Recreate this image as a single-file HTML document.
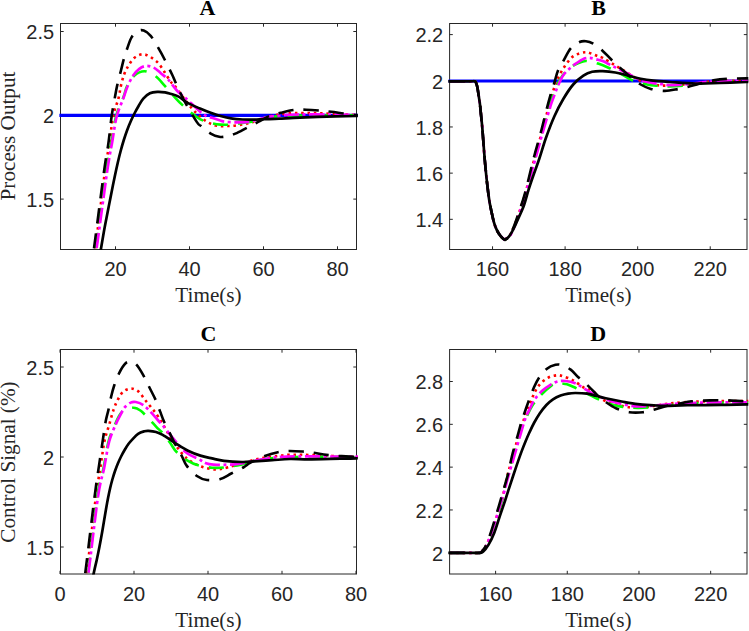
<!DOCTYPE html>
<html><head><meta charset="utf-8"><style>
html,body{margin:0;padding:0;background:#fff;width:749px;height:631px;overflow:hidden}
svg{display:block}
.tl{font-family:"Liberation Sans",sans-serif;font-size:20px;fill:#262626}
.lb{font-family:"Liberation Serif",serif;font-size:21.2px;fill:#262626}
.ti{font-family:"Liberation Serif",serif;font-size:22px;font-weight:bold;fill:#000}
</style></head><body>
<svg width="749" height="631" viewBox="0 0 749 631">
<defs>
<clipPath id="cA"><rect x="59.20" y="23.00" width="298.60" height="227.00"/></clipPath>
<clipPath id="cB"><rect x="448.30" y="23.00" width="300.00" height="227.00"/></clipPath>
<clipPath id="cC"><rect x="59.20" y="349.00" width="298.60" height="225.50"/></clipPath>
<clipPath id="cD"><rect x="448.30" y="349.00" width="300.00" height="225.50"/></clipPath>
</defs>
<rect x="60.50" y="23.50" width="296.00" height="226.00" fill="none" stroke="#262626" stroke-width="1"/>
<path d="M115.50,249.50v-3.20M115.50,23.50v3.20M189.50,249.50v-3.20M189.50,23.50v3.20M263.50,249.50v-3.20M263.50,23.50v3.20M337.50,249.50v-3.20M337.50,23.50v3.20M60.50,199.10h3.20M356.50,199.10h-3.20M60.50,115.30h3.20M356.50,115.30h-3.20M60.50,31.50h3.20M356.50,31.50h-3.20" stroke="#262626" stroke-width="1" fill="none"/>
<g clip-path="url(#cA)" fill="none" stroke-linecap="butt" stroke-linejoin="round">
<path id="pAblue" d="M59.20,115.30 C108.97,115.30 308.03,115.30 357.80,115.30" stroke="#0000ff" stroke-width="3.2"/>
<path id="pAr" d="M89.00,290.00 C90.03,283.17 92.53,268.83 95.20,249.00 C97.87,229.17 102.62,188.67 105.00,171.00 C107.38,153.33 108.17,152.08 109.50,143.00 C110.83,133.92 111.52,123.90 113.00,116.50 C114.48,109.10 117.08,103.70 118.40,98.60 C119.72,93.50 119.95,89.92 120.90,85.90 C121.85,81.88 122.83,77.88 124.10,74.50 C125.37,71.12 126.82,68.35 128.50,65.60 C130.18,62.85 132.18,59.83 134.20,58.00 C136.22,56.17 138.58,55.12 140.60,54.60 C142.62,54.08 144.40,54.33 146.30,54.90 C148.20,55.47 150.00,56.63 152.00,58.00 C154.00,59.37 156.25,60.82 158.30,63.10 C160.35,65.38 162.18,68.53 164.30,71.70 C166.42,74.87 169.17,79.62 171.00,82.10 C172.83,84.58 172.03,82.47 175.30,86.60 C178.57,90.73 185.75,101.33 190.60,106.90 C195.45,112.47 200.17,116.88 204.40,120.00 C208.63,123.12 211.95,124.60 216.00,125.60 C220.05,126.60 224.25,126.18 228.70,126.00 C233.15,125.82 238.65,125.17 242.70,124.50 C246.75,123.83 249.28,123.08 253.00,122.00 C256.72,120.92 260.50,119.30 265.00,118.00 C269.50,116.70 274.17,115.03 280.00,114.20 C285.83,113.37 293.33,113.15 300.00,113.00 C306.67,112.85 313.33,113.08 320.00,113.30 C326.67,113.52 334.00,114.02 340.00,114.30 C346.00,114.58 351.67,114.85 356.00,115.00 C360.33,115.15 364.33,115.17 366.00,115.20" stroke="#ff0000" stroke-width="2.6" stroke-dasharray="2.50 3.80" stroke-dashoffset="1.86"/>
<path id="pAg" d="M89.60,290.00 C90.67,283.17 93.27,268.83 96.00,249.00 C98.73,229.17 103.42,188.83 106.00,171.00 C108.58,153.17 109.83,151.08 111.50,142.00 C113.17,132.92 114.02,123.95 116.00,116.50 C117.98,109.05 121.53,102.40 123.40,97.30 C125.27,92.20 125.40,89.48 127.20,85.90 C129.00,82.32 131.33,78.23 134.20,75.80 C137.07,73.37 140.87,71.25 144.40,71.30 C147.93,71.35 152.03,73.72 155.40,76.10 C158.77,78.48 161.17,81.85 164.60,85.60 C168.03,89.35 173.15,95.47 176.00,98.60 C178.85,101.73 179.07,101.97 181.70,104.40 C184.33,106.83 188.75,110.73 191.80,113.20 C194.85,115.67 196.85,117.58 200.00,119.20 C203.15,120.82 207.28,122.00 210.70,122.90 C214.12,123.80 216.95,124.33 220.50,124.60 C224.05,124.87 228.30,124.78 232.00,124.50 C235.70,124.22 239.13,123.43 242.70,122.90 C246.27,122.37 249.83,122.10 253.40,121.30 C256.97,120.50 259.67,118.98 264.10,118.10 C268.53,117.22 274.02,116.43 280.00,116.00 C285.98,115.57 291.67,115.58 300.00,115.50 C308.33,115.42 320.67,115.53 330.00,115.50 C339.33,115.47 350.00,115.33 356.00,115.30 C362.00,115.27 364.33,115.30 366.00,115.30" stroke="#00ff00" stroke-width="2.6" stroke-dasharray="15.20 10.00" stroke-dashoffset="7.81"/>
<path id="pAm" d="M90.00,290.00 C91.08,283.17 93.63,268.82 96.50,249.00 C99.37,229.18 104.58,188.95 107.20,171.10 C109.82,153.25 110.62,151.00 112.20,141.90 C113.78,132.80 114.82,123.82 116.70,116.50 C118.58,109.18 121.75,102.88 123.50,98.00 C125.25,93.12 125.62,90.90 127.20,87.20 C128.78,83.50 130.98,78.87 133.00,75.80 C135.02,72.73 137.08,70.45 139.30,68.80 C141.52,67.15 143.82,66.05 146.30,65.90 C148.78,65.75 151.78,66.68 154.20,67.90 C156.62,69.12 158.50,71.30 160.80,73.20 C163.10,75.10 165.25,76.33 168.00,79.30 C170.75,82.27 174.38,87.88 177.30,91.00 C180.22,94.12 181.18,94.13 185.50,98.00 C189.82,101.87 198.65,110.85 203.20,114.20 C207.75,117.55 209.83,117.00 212.80,118.10 C215.77,119.20 218.68,120.17 221.00,120.80 C223.32,121.43 223.97,121.63 226.70,121.90 C229.43,122.17 233.85,122.40 237.40,122.40 C240.95,122.40 244.23,122.47 248.00,121.90 C251.77,121.33 255.50,119.98 260.00,119.00 C264.50,118.02 268.33,116.75 275.00,116.00 C281.67,115.25 290.83,114.73 300.00,114.50 C309.17,114.27 320.67,114.52 330.00,114.60 C339.33,114.68 350.00,114.92 356.00,115.00 C362.00,115.08 364.33,115.08 366.00,115.10" stroke="#ff00ff" stroke-width="2.7" stroke-dasharray="15.20 3.50 3.00 3.50" stroke-dashoffset="7.80"/>
<path id="pAkd" d="M88.00,290.00 C88.98,283.17 91.23,268.80 93.90,249.00 C96.58,229.20 101.63,188.83 104.05,171.20 C106.47,153.57 107.14,152.32 108.40,143.20 C109.66,134.08 110.50,124.23 111.60,116.50 C112.70,108.77 114.08,101.90 115.00,96.80 C115.92,91.70 116.12,90.25 117.10,85.90 C118.08,81.55 119.73,75.35 120.90,70.70 C122.07,66.05 123.05,61.70 124.10,58.00 C125.15,54.30 125.93,51.98 127.20,48.50 C128.47,45.02 129.90,39.98 131.70,37.10 C133.50,34.22 136.00,32.30 138.00,31.20 C140.00,30.10 141.58,29.73 143.70,30.50 C145.82,31.27 148.27,32.90 150.70,35.80 C153.13,38.70 155.93,43.87 158.30,47.90 C160.67,51.93 162.58,55.52 164.90,60.00 C167.22,64.48 170.35,70.90 172.20,74.80 C174.05,78.70 174.00,79.10 176.00,83.40 C178.00,87.70 180.72,94.15 184.20,100.60 C187.68,107.05 194.08,117.85 196.90,122.10 C199.72,126.35 198.80,124.18 201.10,126.10 C203.40,128.02 207.68,131.82 210.70,133.60 C213.72,135.38 216.53,136.35 219.20,136.80 C221.87,137.25 224.02,136.83 226.70,136.30 C229.38,135.77 231.92,135.03 235.30,133.60 C238.68,132.17 243.18,129.65 247.00,127.70 C250.82,125.75 254.47,123.85 258.20,121.90 C261.93,119.95 265.63,117.52 269.40,116.00 C273.17,114.48 276.70,113.80 280.80,112.80 C284.90,111.80 289.80,110.52 294.00,110.00 C298.20,109.48 301.58,109.60 306.00,109.70 C310.42,109.80 316.28,110.25 320.50,110.60 C324.72,110.95 327.30,111.30 331.30,111.80 C335.30,112.30 340.38,113.07 344.50,113.60 C348.62,114.13 352.42,114.68 356.00,115.00 C359.58,115.32 364.33,115.42 366.00,115.50" stroke="#000" stroke-width="2.6" stroke-dasharray="15.20 10.00" stroke-dashoffset="8.28"/>
<path id="pAk" d="M94.00,290.00 C95.17,283.10 99.36,258.27 101.00,248.60 C102.64,238.93 102.92,237.10 103.83,232.00 C104.74,226.90 105.58,222.67 106.48,218.00 C107.38,213.33 108.30,208.67 109.22,204.00 C110.14,199.33 111.06,194.67 112.00,190.00 C112.94,185.33 113.90,180.50 114.85,176.00 C115.80,171.50 116.73,167.17 117.70,163.00 C118.67,158.83 119.63,154.83 120.65,151.00 C121.67,147.17 122.72,143.50 123.81,140.00 C124.91,136.50 126.04,133.17 127.22,130.00 C128.40,126.83 129.62,123.83 130.87,121.00 C132.12,118.17 133.41,115.50 134.70,113.00 C135.99,110.50 137.16,108.40 138.59,106.00 C140.02,103.60 141.42,100.72 143.30,98.60 C145.19,96.48 147.53,94.42 149.90,93.30 C152.27,92.18 154.97,92.05 157.50,91.90 C160.03,91.75 162.93,92.08 165.10,92.40 C167.27,92.72 168.25,93.10 170.50,93.80 C172.75,94.50 175.68,95.05 178.60,96.60 C181.52,98.15 184.43,101.12 188.00,103.10 C191.57,105.08 196.22,106.88 200.00,108.50 C203.78,110.12 207.13,111.50 210.70,112.80 C214.27,114.10 218.02,115.37 221.40,116.30 C224.78,117.23 227.45,117.87 231.00,118.40 C234.55,118.93 238.97,119.30 242.70,119.50 C246.43,119.70 249.83,119.65 253.40,119.60 C256.97,119.55 259.83,119.35 264.10,119.20 C268.37,119.05 274.02,118.93 279.00,118.70 C283.98,118.47 287.50,118.10 294.00,117.80 C300.50,117.50 307.67,117.20 318.00,116.90 C328.33,116.60 348.00,116.15 356.00,116.00 C364.00,115.85 364.33,116.00 366.00,116.00" stroke="#000" stroke-width="2.7"/>
</g>
<text x="115.50" y="276.40" class="tl" text-anchor="middle">20</text>
<text x="189.50" y="276.40" class="tl" text-anchor="middle">40</text>
<text x="263.50" y="276.40" class="tl" text-anchor="middle">60</text>
<text x="337.50" y="276.40" class="tl" text-anchor="middle">80</text>
<text x="54.10" y="206.90" class="tl" text-anchor="end">1.5</text>
<text x="54.10" y="123.10" class="tl" text-anchor="end">2</text>
<text x="54.10" y="39.30" class="tl" text-anchor="end">2.5</text>
<text x="208.50" y="302.20" class="lb" text-anchor="middle">Time(s)</text>
<text x="207.50" y="14.50" class="ti" text-anchor="middle">A</text>
<rect x="449.60" y="23.50" width="297.40" height="226.00" fill="none" stroke="#262626" stroke-width="1"/>
<path d="M492.54,249.50v-3.20M492.54,23.50v3.20M565.10,249.50v-3.20M565.10,23.50v3.20M637.66,249.50v-3.20M637.66,23.50v3.20M710.22,249.50v-3.20M710.22,23.50v3.20M449.60,219.32h3.20M747.00,219.32h-3.20M449.60,173.14h3.20M747.00,173.14h-3.20M449.60,126.96h3.20M747.00,126.96h-3.20M449.60,80.78h3.20M747.00,80.78h-3.20M449.60,34.60h3.20M747.00,34.60h-3.20" stroke="#262626" stroke-width="1" fill="none"/>
<g clip-path="url(#cB)" fill="none" stroke-linecap="butt" stroke-linejoin="round">
<path id="pBblue" d="M448.30,81.00 C498.30,81.00 698.30,81.00 748.30,81.00" stroke="#0000ff" stroke-width="3.2"/>
<path id="pBr" d="M440.00,81.30 C441.50,81.30 444.00,81.30 449.00,81.30 C454.00,81.30 465.67,81.28 470.00,81.30 C474.33,81.32 473.95,81.03 475.00,81.40 C476.05,81.77 475.88,82.42 476.30,83.50 C476.72,84.58 477.10,85.85 477.50,87.90 C477.90,89.95 478.30,93.15 478.70,95.80 C479.10,98.45 479.57,101.15 479.90,103.80 C480.23,106.45 480.43,109.07 480.70,111.70 C480.97,114.33 481.23,116.92 481.50,119.60 C481.77,122.28 482.00,124.27 482.30,127.80 C482.60,131.33 482.93,135.98 483.30,140.80 C483.67,145.62 484.07,151.50 484.50,156.70 C484.93,161.90 485.42,167.15 485.90,172.00 C486.38,176.85 486.80,180.85 487.40,185.80 C488.00,190.75 488.60,196.38 489.50,201.70 C490.40,207.02 491.95,213.90 492.80,217.70 C493.65,221.50 493.88,222.35 494.60,224.50 C495.32,226.65 496.17,228.77 497.10,230.60 C498.03,232.43 499.02,234.06 500.20,235.50 C501.38,236.94 502.67,239.13 504.20,239.25 C505.73,239.37 507.77,238.32 509.40,236.20 C511.03,234.07 512.32,230.62 514.00,226.50 C515.68,222.38 517.50,217.42 519.50,211.50 C521.50,205.58 523.42,200.17 526.00,191.00 C528.58,181.83 532.37,166.25 535.00,156.50 C537.63,146.75 539.55,140.67 541.80,132.50 C544.05,124.33 546.53,114.65 548.50,107.50 C550.47,100.35 552.02,94.48 553.60,89.60 C555.18,84.72 556.20,82.00 558.00,78.20 C559.80,74.40 562.07,70.30 564.40,66.80 C566.73,63.30 569.47,59.43 572.00,57.20 C574.53,54.97 577.28,54.23 579.60,53.40 C581.92,52.57 584.00,52.20 585.90,52.20 C587.80,52.20 589.10,52.77 591.00,53.40 C592.90,54.03 595.35,55.25 597.30,56.00 C599.25,56.75 599.70,56.32 602.70,57.90 C605.70,59.48 611.08,62.97 615.30,65.50 C619.52,68.03 623.77,70.52 628.00,73.10 C632.23,75.68 636.47,79.10 640.70,81.00 C644.93,82.90 649.07,83.73 653.40,84.50 C657.73,85.27 660.60,85.68 666.70,85.60 C672.80,85.52 682.78,84.68 690.00,84.00 C697.22,83.32 700.58,82.08 710.00,81.50 C719.42,80.92 738.83,80.67 746.50,80.50 C754.17,80.33 754.42,80.50 756.00,80.50" stroke="#ff0000" stroke-width="2.6" stroke-dasharray="2.50 3.80" stroke-dashoffset="2.63"/>
<path id="pBg" d="M440.00,81.30 C441.50,81.30 444.00,81.30 449.00,81.30 C454.00,81.30 465.67,81.28 470.00,81.30 C474.33,81.32 473.95,81.03 475.00,81.40 C476.05,81.77 475.88,82.42 476.30,83.50 C476.72,84.58 477.10,85.85 477.50,87.90 C477.90,89.95 478.30,93.15 478.70,95.80 C479.10,98.45 479.57,101.15 479.90,103.80 C480.23,106.45 480.43,109.07 480.70,111.70 C480.97,114.33 481.23,116.92 481.50,119.60 C481.77,122.28 482.00,124.27 482.30,127.80 C482.60,131.33 482.93,135.98 483.30,140.80 C483.67,145.62 484.07,151.50 484.50,156.70 C484.93,161.90 485.42,167.15 485.90,172.00 C486.38,176.85 486.80,180.85 487.40,185.80 C488.00,190.75 488.60,196.38 489.50,201.70 C490.40,207.02 491.95,213.90 492.80,217.70 C493.65,221.50 493.88,222.35 494.60,224.50 C495.32,226.65 496.17,228.77 497.10,230.60 C498.03,232.43 499.01,234.05 500.20,235.50 C501.39,236.95 502.70,239.17 504.25,239.30 C505.80,239.43 507.84,238.35 509.50,236.30 C511.16,234.25 512.52,231.05 514.20,227.00 C515.88,222.95 517.63,217.92 519.60,212.00 C521.57,206.08 523.35,200.83 526.00,191.50 C528.65,182.17 532.83,165.87 535.50,156.00 C538.17,146.13 539.75,140.47 542.00,132.30 C544.25,124.13 547.17,113.28 549.00,107.00 C550.83,100.72 551.28,98.98 553.00,94.60 C554.72,90.22 557.20,84.50 559.30,80.70 C561.40,76.90 563.07,74.43 565.60,71.80 C568.13,69.17 571.75,66.58 574.50,64.90 C577.25,63.22 579.98,62.33 582.10,61.70 C584.22,61.07 584.53,60.78 587.20,61.10 C589.87,61.42 594.47,62.45 598.10,63.60 C601.73,64.75 605.07,66.20 609.00,68.00 C612.93,69.80 617.68,72.28 621.70,74.40 C625.72,76.52 628.88,79.02 633.10,80.70 C637.32,82.38 642.78,83.65 647.00,84.50 C651.22,85.35 654.65,85.48 658.40,85.80 C662.15,86.12 665.27,86.45 669.50,86.40 C673.73,86.35 678.72,85.98 683.80,85.50 C688.88,85.02 693.97,84.17 700.00,83.50 C706.03,82.83 712.25,81.98 720.00,81.50 C727.75,81.02 740.50,80.75 746.50,80.60 C752.50,80.45 754.42,80.60 756.00,80.60" stroke="#00ff00" stroke-width="2.6" stroke-dasharray="15.20 10.00" stroke-dashoffset="15.06"/>
<path id="pBm" d="M440.00,81.30 C441.50,81.30 444.00,81.30 449.00,81.30 C454.00,81.30 465.67,81.28 470.00,81.30 C474.33,81.32 473.95,81.03 475.00,81.40 C476.05,81.77 475.88,82.42 476.30,83.50 C476.72,84.58 477.10,85.85 477.50,87.90 C477.90,89.95 478.30,93.15 478.70,95.80 C479.10,98.45 479.57,101.15 479.90,103.80 C480.23,106.45 480.43,109.07 480.70,111.70 C480.97,114.33 481.23,116.92 481.50,119.60 C481.77,122.28 482.00,124.27 482.30,127.80 C482.60,131.33 482.93,135.98 483.30,140.80 C483.67,145.62 484.07,151.50 484.50,156.70 C484.93,161.90 485.42,167.15 485.90,172.00 C486.38,176.85 486.80,180.85 487.40,185.80 C488.00,190.75 488.60,196.38 489.50,201.70 C490.40,207.02 491.95,213.90 492.80,217.70 C493.65,221.50 493.88,222.35 494.60,224.50 C495.32,226.65 496.17,228.77 497.10,230.60 C498.03,232.43 499.07,234.07 500.20,235.50 C501.33,236.93 503.15,238.55 503.90,239.20 C504.65,239.85 503.75,239.87 504.70,239.40 C505.65,238.93 508.00,238.47 509.60,236.40 C511.20,234.33 512.60,231.07 514.30,227.00 C516.00,222.93 517.80,218.00 519.80,212.00 C521.80,206.00 523.53,200.48 526.30,191.00 C529.07,181.52 533.62,165.03 536.40,155.10 C539.18,145.17 540.63,139.63 543.00,131.40 C545.37,123.17 548.85,111.35 550.60,105.70 C552.35,100.05 552.27,100.82 553.50,97.50 C554.73,94.18 556.40,89.45 558.00,85.80 C559.60,82.15 561.20,78.45 563.10,75.60 C565.00,72.75 567.28,70.70 569.40,68.70 C571.52,66.70 573.47,65.23 575.80,63.60 C578.13,61.97 581.08,59.85 583.40,58.90 C585.72,57.95 587.27,57.75 589.70,57.90 C592.13,58.05 595.83,59.27 598.00,59.80 C600.17,60.33 599.82,59.83 602.70,61.10 C605.58,62.37 611.08,65.30 615.30,67.40 C619.52,69.50 623.77,71.58 628.00,73.70 C632.23,75.82 636.47,78.52 640.70,80.10 C644.93,81.68 650.18,82.58 653.40,83.20 C656.62,83.82 657.47,83.48 660.00,83.80 C662.53,84.12 663.60,85.07 668.60,85.10 C673.60,85.13 683.10,84.57 690.00,84.00 C696.90,83.43 700.58,82.28 710.00,81.70 C719.42,81.12 738.83,80.70 746.50,80.50 C754.17,80.30 754.42,80.50 756.00,80.50" stroke="#ff00ff" stroke-width="2.7" stroke-dasharray="15.20 3.50 3.00 3.50" stroke-dashoffset="14.43"/>
<path id="pBkd" d="M440.00,81.30 C441.50,81.30 444.00,81.30 449.00,81.30 C454.00,81.30 465.67,81.28 470.00,81.30 C474.33,81.32 473.95,81.03 475.00,81.40 C476.05,81.77 475.88,82.42 476.30,83.50 C476.72,84.58 477.10,85.85 477.50,87.90 C477.90,89.95 478.30,93.15 478.70,95.80 C479.10,98.45 479.57,101.15 479.90,103.80 C480.23,106.45 480.43,109.07 480.70,111.70 C480.97,114.33 481.23,116.92 481.50,119.60 C481.77,122.28 482.00,124.27 482.30,127.80 C482.60,131.33 482.93,135.98 483.30,140.80 C483.67,145.62 484.07,151.50 484.50,156.70 C484.93,161.90 485.42,167.15 485.90,172.00 C486.38,176.85 486.80,180.85 487.40,185.80 C488.00,190.75 488.60,196.38 489.50,201.70 C490.40,207.02 491.95,213.90 492.80,217.70 C493.65,221.50 493.88,222.35 494.60,224.50 C495.32,226.65 496.17,228.77 497.10,230.60 C498.03,232.43 499.02,234.06 500.20,235.50 C501.38,236.94 502.70,239.08 504.20,239.25 C505.70,239.42 507.62,238.54 509.20,236.50 C510.78,234.46 512.07,231.08 513.70,227.00 C515.33,222.92 517.07,217.83 519.00,212.00 C520.93,206.17 522.80,201.17 525.30,192.00 C527.80,182.83 531.45,166.78 534.00,157.00 C536.55,147.22 538.47,141.37 540.60,133.30 C542.73,125.23 545.13,115.05 546.80,108.60 C548.47,102.15 549.37,98.83 550.60,94.60 C551.83,90.37 552.97,87.20 554.20,83.20 C555.43,79.20 556.42,74.40 558.00,70.60 C559.58,66.80 561.58,64.10 563.70,60.40 C565.82,56.70 568.05,51.47 570.70,48.40 C573.35,45.33 577.07,43.20 579.60,42.00 C582.13,40.80 583.72,40.98 585.90,41.20 C588.08,41.42 589.90,41.68 592.70,43.30 C595.50,44.92 599.57,48.15 602.70,50.90 C605.83,53.65 608.33,56.73 611.50,59.80 C614.67,62.87 618.52,66.45 621.70,69.30 C624.88,72.15 627.43,74.37 630.60,76.90 C633.77,79.43 637.33,82.50 640.70,84.50 C644.07,86.50 646.78,87.83 650.80,88.90 C654.82,89.97 660.30,90.87 664.80,90.90 C669.30,90.93 673.85,89.80 677.80,89.10 C681.75,88.40 684.93,87.58 688.50,86.70 C692.07,85.82 695.05,84.85 699.20,83.80 C703.35,82.75 708.65,81.23 713.40,80.40 C718.15,79.57 722.18,79.13 727.70,78.80 C733.22,78.47 741.78,78.47 746.50,78.40 C751.22,78.33 754.42,78.40 756.00,78.40" stroke="#000" stroke-width="2.6" stroke-dasharray="15.20 10.00" stroke-dashoffset="15.56"/>
<path id="pBk" d="M440.00,81.30 C441.50,81.30 444.00,81.30 449.00,81.30 C454.00,81.30 465.67,81.28 470.00,81.30 C474.33,81.32 473.95,81.03 475.00,81.40 C476.05,81.77 475.88,82.42 476.30,83.50 C476.72,84.58 477.10,85.85 477.50,87.90 C477.90,89.95 478.30,93.15 478.70,95.80 C479.10,98.45 479.57,101.15 479.90,103.80 C480.23,106.45 480.43,109.07 480.70,111.70 C480.97,114.33 481.23,116.92 481.50,119.60 C481.77,122.28 482.00,124.27 482.30,127.80 C482.60,131.33 482.93,135.98 483.30,140.80 C483.67,145.62 484.07,151.50 484.50,156.70 C484.93,161.90 485.42,167.15 485.90,172.00 C486.38,176.85 486.80,180.85 487.40,185.80 C488.00,190.75 488.60,196.38 489.50,201.70 C490.40,207.02 491.95,213.90 492.80,217.70 C493.65,221.50 493.88,222.35 494.60,224.50 C495.32,226.65 496.17,228.77 497.10,230.60 C498.03,232.43 499.07,234.07 500.20,235.50 C501.33,236.93 503.05,238.50 503.90,239.20 C504.75,239.90 504.47,240.12 505.30,239.70 C506.13,239.28 507.77,238.05 508.90,236.70 C510.03,235.35 511.15,233.28 512.10,231.60 C513.05,229.92 513.72,228.47 514.60,226.60 C515.48,224.73 515.85,223.92 517.40,220.40 C518.95,216.88 522.03,210.63 523.90,205.50 C525.77,200.37 527.00,194.68 528.60,189.60 C530.20,184.52 531.73,180.10 533.50,175.00 C535.27,169.90 537.13,165.17 539.20,159.00 C541.27,152.83 543.37,145.13 545.90,138.00 C548.43,130.87 551.50,122.70 554.40,116.20 C557.30,109.70 560.17,104.28 563.30,99.00 C566.43,93.72 569.85,88.40 573.20,84.50 C576.55,80.60 580.23,77.72 583.40,75.60 C586.57,73.48 588.98,72.53 592.20,71.80 C595.42,71.07 598.85,71.08 602.70,71.20 C606.55,71.32 611.08,71.77 615.30,72.50 C619.52,73.23 623.77,74.55 628.00,75.60 C632.23,76.65 636.47,77.95 640.70,78.80 C644.93,79.65 648.55,80.17 653.40,80.70 C658.25,81.23 662.77,81.52 669.80,82.00 C676.83,82.48 687.23,83.43 695.60,83.60 C703.97,83.77 711.52,83.27 720.00,83.00 C728.48,82.73 740.50,82.20 746.50,82.00 C752.50,81.80 754.42,81.83 756.00,81.80" stroke="#000" stroke-width="2.7"/>
</g>
<text x="492.54" y="276.40" class="tl" text-anchor="middle">160</text>
<text x="565.10" y="276.40" class="tl" text-anchor="middle">180</text>
<text x="637.66" y="276.40" class="tl" text-anchor="middle">200</text>
<text x="710.22" y="276.40" class="tl" text-anchor="middle">220</text>
<text x="443.20" y="227.12" class="tl" text-anchor="end">1.4</text>
<text x="443.20" y="180.94" class="tl" text-anchor="end">1.6</text>
<text x="443.20" y="134.76" class="tl" text-anchor="end">1.8</text>
<text x="443.20" y="88.58" class="tl" text-anchor="end">2</text>
<text x="443.20" y="42.40" class="tl" text-anchor="end">2.2</text>
<text x="598.30" y="302.20" class="lb" text-anchor="middle">Time(s)</text>
<text x="598.50" y="14.50" class="ti" text-anchor="middle">B</text>
<rect x="60.50" y="349.50" width="296.00" height="224.50" fill="none" stroke="#262626" stroke-width="1"/>
<path d="M60.00,574.00v-3.20M60.00,349.50v3.20M134.00,574.00v-3.20M134.00,349.50v3.20M208.00,574.00v-3.20M208.00,349.50v3.20M282.00,574.00v-3.20M282.00,349.50v3.20M356.00,574.00v-3.20M356.00,349.50v3.20M60.50,547.00h3.20M356.50,547.00h-3.20M60.50,457.00h3.20M356.50,457.00h-3.20M60.50,367.00h3.20M356.50,367.00h-3.20" stroke="#262626" stroke-width="1" fill="none"/>
<g clip-path="url(#cC)" fill="none" stroke-linecap="butt" stroke-linejoin="round">
<path id="pCr" d="M81.00,610.00 C81.93,603.92 84.10,592.50 86.60,573.50 C89.10,554.50 93.68,513.75 96.00,496.00 C98.32,478.25 99.08,476.17 100.50,467.00 C101.92,457.83 103.05,448.03 104.50,441.00 C105.95,433.97 107.68,430.03 109.20,424.80 C110.72,419.57 112.13,413.83 113.60,409.60 C115.07,405.37 116.42,402.37 118.00,399.40 C119.58,396.43 121.20,393.58 123.10,391.80 C125.00,390.02 127.50,389.12 129.40,388.70 C131.30,388.28 132.80,388.67 134.50,389.30 C136.20,389.93 137.92,390.82 139.60,392.50 C141.28,394.18 142.78,397.05 144.60,399.40 C146.42,401.75 148.17,403.63 150.50,406.60 C152.83,409.57 155.30,412.17 158.60,417.20 C161.90,422.23 166.45,430.80 170.30,436.80 C174.15,442.80 178.12,448.98 181.70,453.20 C185.28,457.42 188.22,459.77 191.80,462.10 C195.38,464.43 199.22,465.97 203.20,467.20 C207.18,468.43 211.55,469.48 215.70,469.50 C219.85,469.52 221.10,469.05 228.10,467.30 C235.10,465.55 249.57,460.88 257.70,459.00 C265.83,457.12 271.52,456.70 276.90,456.00 C282.28,455.30 284.48,454.97 290.00,454.80 C295.52,454.63 299.00,454.63 310.00,455.00 C321.00,455.37 346.67,456.67 356.00,457.00 C365.33,457.33 364.33,457.00 366.00,457.00" stroke="#ff0000" stroke-width="2.6" stroke-dasharray="2.50 3.80" stroke-dashoffset="0.39"/>
<path id="pCg" d="M82.50,610.00 C83.42,603.92 85.53,592.50 88.00,573.50 C90.47,554.50 94.72,513.58 97.30,496.00 C99.88,478.42 101.63,477.08 103.50,468.00 C105.37,458.92 106.58,448.75 108.50,441.50 C110.42,434.25 112.78,429.40 115.00,424.50 C117.22,419.60 118.77,414.90 121.80,412.10 C124.83,409.30 130.03,407.92 133.20,407.70 C136.37,407.48 137.72,408.43 140.80,410.80 C143.88,413.17 148.73,418.83 151.70,421.90 C154.67,424.97 156.77,427.35 158.60,429.20 C160.43,431.05 160.75,430.68 162.70,433.00 C164.65,435.32 167.98,439.93 170.30,443.10 C172.62,446.27 173.65,449.05 176.60,452.00 C179.55,454.95 184.40,458.58 188.00,460.80 C191.60,463.02 194.20,464.15 198.20,465.30 C202.20,466.45 207.70,467.33 212.00,467.70 C216.30,468.07 218.98,468.05 224.00,467.50 C229.02,466.95 234.48,465.92 242.10,464.40 C249.72,462.88 260.88,459.62 269.70,458.40 C278.52,457.18 286.52,457.35 295.00,457.10 C303.48,456.85 310.43,456.92 320.60,456.90 C330.77,456.88 348.43,456.98 356.00,457.00 C363.57,457.02 364.33,457.00 366.00,457.00" stroke="#00ff00" stroke-width="2.6" stroke-dasharray="15.20 10.00" stroke-dashoffset="12.68"/>
<path id="pCm" d="M83.00,610.00 C83.90,603.92 85.88,592.48 88.40,573.50 C90.92,554.52 95.48,513.65 98.10,496.10 C100.72,478.55 102.25,477.30 104.10,468.20 C105.95,459.10 107.20,448.93 109.20,441.50 C111.20,434.07 114.20,428.08 116.10,423.60 C118.00,419.12 119.22,417.25 120.60,414.60 C121.98,411.95 122.72,409.70 124.40,407.70 C126.08,405.70 128.80,403.55 130.70,402.60 C132.60,401.65 133.68,401.58 135.80,402.00 C137.92,402.42 140.85,403.37 143.40,405.10 C145.95,406.83 148.57,409.75 151.10,412.40 C153.63,415.05 156.67,418.85 158.60,421.00 C160.53,423.15 160.33,422.47 162.70,425.30 C165.07,428.13 169.00,433.55 172.80,438.00 C176.60,442.45 180.85,448.30 185.50,452.00 C190.15,455.70 197.28,458.33 200.70,460.20 C204.12,462.07 203.88,462.47 206.00,463.20 C208.12,463.93 210.40,464.33 213.40,464.60 C216.40,464.87 219.82,464.93 224.00,464.80 C228.18,464.67 233.48,464.47 238.50,463.80 C243.52,463.13 248.50,461.80 254.10,460.80 C259.70,459.80 266.70,458.50 272.10,457.80 C277.50,457.10 279.85,456.83 286.50,456.60 C293.15,456.37 300.42,456.38 312.00,456.40 C323.58,456.42 347.00,456.63 356.00,456.70 C365.00,456.77 364.33,456.78 366.00,456.80" stroke="#ff00ff" stroke-width="2.7" stroke-dasharray="15.20 3.50 3.00 3.50" stroke-dashoffset="12.69"/>
<path id="pCkd" d="M80.00,610.00 C80.87,603.92 82.76,592.48 85.20,573.50 C87.64,554.52 92.35,514.08 94.65,496.10 C96.95,478.12 97.64,474.90 99.00,465.60 C100.36,456.30 101.70,447.60 102.80,440.30 C103.90,433.00 104.65,426.92 105.60,421.80 C106.55,416.68 107.58,413.75 108.50,409.60 C109.42,405.45 110.15,400.92 111.10,396.90 C112.05,392.88 112.83,389.52 114.20,385.50 C115.57,381.48 117.40,376.50 119.30,372.80 C121.20,369.10 123.70,365.10 125.60,363.30 C127.50,361.50 128.90,361.78 130.70,362.00 C132.50,362.22 134.28,362.38 136.40,364.60 C138.52,366.82 141.18,371.40 143.40,375.30 C145.62,379.20 147.60,383.77 149.70,388.00 C151.80,392.23 154.27,396.80 156.00,400.70 C157.73,404.60 158.77,407.93 160.10,411.40 C161.43,414.87 162.30,417.70 164.00,421.50 C165.70,425.30 168.42,430.38 170.30,434.20 C172.18,438.02 173.40,440.80 175.30,444.40 C177.20,448.00 179.78,452.22 181.70,455.80 C183.62,459.38 184.27,462.53 186.80,465.90 C189.33,469.27 193.53,473.65 196.90,476.00 C200.27,478.35 203.08,479.52 207.00,480.00 C210.92,480.48 216.35,479.98 220.40,478.90 C224.45,477.82 227.48,475.40 231.30,473.50 C235.12,471.60 240.10,469.32 243.30,467.50 C246.50,465.68 246.90,464.52 250.50,462.60 C254.10,460.68 260.50,457.70 264.90,456.00 C269.30,454.30 272.97,453.23 276.90,452.40 C280.83,451.57 284.07,451.13 288.50,451.00 C292.93,450.87 299.40,451.33 303.50,451.60 C307.60,451.87 308.92,452.02 313.10,452.60 C317.28,453.18 321.45,454.37 328.60,455.10 C335.75,455.83 349.77,456.68 356.00,457.00 C362.23,457.32 364.33,457.00 366.00,457.00" stroke="#000" stroke-width="2.6" stroke-dasharray="15.20 10.00" stroke-dashoffset="13.15"/>
<path id="pCk" d="M86.40,610.00 C87.61,603.92 91.94,581.83 93.66,573.50 C95.38,565.17 95.77,564.42 96.73,560.00 C97.69,555.58 98.55,551.33 99.40,547.00 C100.25,542.67 101.04,538.33 101.81,534.00 C102.58,529.67 103.31,525.17 104.02,521.00 C104.72,516.83 105.37,512.83 106.04,509.00 C106.71,505.17 107.36,501.50 108.05,498.00 C108.74,494.50 109.44,491.17 110.18,488.00 C110.92,484.83 111.69,481.83 112.50,479.00 C113.31,476.17 114.09,473.67 115.02,471.00 C115.95,468.33 117.03,465.50 118.08,463.00 C119.13,460.50 120.24,458.17 121.33,456.00 C122.42,453.83 123.43,452.00 124.61,450.00 C125.79,448.00 127.14,445.73 128.41,444.00 C129.67,442.27 130.58,441.30 132.20,439.60 C133.81,437.90 136.07,435.18 138.10,433.80 C140.13,432.42 142.67,431.78 144.40,431.30 C146.13,430.82 146.57,430.78 148.50,430.90 C150.43,431.02 153.63,431.33 156.00,432.00 C158.37,432.67 159.48,433.05 162.70,434.90 C165.92,436.75 171.08,440.47 175.30,443.10 C179.52,445.73 183.82,448.62 188.00,450.70 C192.18,452.78 196.40,454.32 200.40,455.60 C204.40,456.88 208.07,457.53 212.00,458.40 C215.93,459.27 218.98,460.20 224.00,460.80 C229.02,461.40 237.08,461.90 242.10,462.00 C247.12,462.10 249.10,461.70 254.10,461.40 C259.10,461.10 266.12,460.60 272.10,460.20 C278.08,459.80 283.35,459.13 290.00,459.00 C296.65,458.87 301.00,459.52 312.00,459.40 C323.00,459.28 347.00,458.48 356.00,458.30 C365.00,458.12 364.33,458.30 366.00,458.30" stroke="#000" stroke-width="2.7"/>
</g>
<text x="60.00" y="600.90" class="tl" text-anchor="middle">0</text>
<text x="134.00" y="600.90" class="tl" text-anchor="middle">20</text>
<text x="208.00" y="600.90" class="tl" text-anchor="middle">40</text>
<text x="282.00" y="600.90" class="tl" text-anchor="middle">60</text>
<text x="356.00" y="600.90" class="tl" text-anchor="middle">80</text>
<text x="54.10" y="554.80" class="tl" text-anchor="end">1.5</text>
<text x="54.10" y="464.80" class="tl" text-anchor="end">2</text>
<text x="54.10" y="374.80" class="tl" text-anchor="end">2.5</text>
<text x="208.50" y="626.70" class="lb" text-anchor="middle">Time(s)</text>
<text x="208.50" y="340.50" class="ti" text-anchor="middle">C</text>
<rect x="449.60" y="349.50" width="297.40" height="224.50" fill="none" stroke="#262626" stroke-width="1"/>
<path d="M495.60,574.00v-3.20M495.60,349.50v3.20M567.28,574.00v-3.20M567.28,349.50v3.20M638.97,574.00v-3.20M638.97,349.50v3.20M710.66,574.00v-3.20M710.66,349.50v3.20M449.60,552.78h3.20M747.00,552.78h-3.20M449.60,509.96h3.20M747.00,509.96h-3.20M449.60,467.14h3.20M747.00,467.14h-3.20M449.60,424.32h3.20M747.00,424.32h-3.20M449.60,381.50h3.20M747.00,381.50h-3.20" stroke="#262626" stroke-width="1" fill="none"/>
<g clip-path="url(#cD)" fill="none" stroke-linecap="butt" stroke-linejoin="round">
<path id="pDr" d="M440.00,552.90 C441.50,552.90 444.00,552.90 449.00,552.90 C454.00,552.90 464.92,552.90 470.00,552.90 C475.08,552.90 477.50,553.17 479.50,552.90 C481.50,552.63 480.87,552.55 482.00,551.30 C483.13,550.05 484.75,548.45 486.30,545.40 C487.85,542.35 489.60,537.65 491.30,533.00 C493.00,528.35 494.77,522.67 496.50,517.50 C498.23,512.33 500.03,508.42 501.70,502.00 C503.37,495.58 504.73,486.33 506.50,479.00 C508.27,471.67 510.30,465.17 512.30,458.00 C514.30,450.83 516.58,442.40 518.50,436.00 C520.42,429.60 521.43,426.13 523.80,419.60 C526.17,413.07 530.17,402.50 532.70,396.80 C535.23,391.10 536.47,388.57 539.00,385.40 C541.53,382.23 544.93,379.48 547.90,377.80 C550.87,376.12 554.27,375.55 556.80,375.30 C559.33,375.05 560.37,375.47 563.10,376.30 C565.83,377.13 569.82,378.47 573.20,380.30 C576.58,382.13 580.02,385.38 583.40,387.30 C586.78,389.22 589.78,389.52 593.50,391.80 C597.22,394.08 599.57,398.40 605.70,401.00 C611.83,403.60 622.92,406.48 630.30,407.40 C637.68,408.32 643.38,407.15 650.00,406.50 C656.62,405.85 661.67,404.33 670.00,403.50 C678.33,402.67 687.25,401.92 700.00,401.50 C712.75,401.08 737.17,401.08 746.50,401.00 C755.83,400.92 754.42,401.00 756.00,401.00" stroke="#ff0000" stroke-width="2.6" stroke-dasharray="2.50 3.80" stroke-dashoffset="2.65"/>
<path id="pDg" d="M440.00,552.90 C441.50,552.90 444.00,552.90 449.00,552.90 C454.00,552.90 464.92,552.90 470.00,552.90 C475.08,552.90 477.48,553.17 479.50,552.90 C481.52,552.63 480.97,552.55 482.10,551.30 C483.23,550.05 484.78,548.45 486.30,545.40 C487.82,542.35 489.50,537.57 491.20,533.00 C492.90,528.43 494.78,523.08 496.50,518.00 C498.22,512.92 499.75,509.07 501.50,502.50 C503.25,495.93 505.12,485.97 507.00,478.60 C508.88,471.23 510.72,465.82 512.80,458.30 C514.88,450.78 517.88,438.88 519.50,433.50 C521.12,428.12 520.10,431.05 522.50,426.00 C524.90,420.95 529.03,409.97 533.90,403.20 C538.77,396.43 547.35,388.60 551.70,385.40 C556.05,382.20 557.47,384.20 560.00,384.00 C562.53,383.80 564.27,383.53 566.90,384.20 C569.53,384.87 572.22,386.32 575.80,388.00 C579.38,389.68 584.60,392.40 588.40,394.30 C592.20,396.20 594.83,397.75 598.60,399.40 C602.37,401.05 606.97,402.95 611.00,404.20 C615.03,405.45 618.35,406.28 622.80,406.90 C627.25,407.52 633.43,407.82 637.70,407.90 C641.97,407.98 643.02,407.88 648.40,407.40 C653.78,406.92 661.40,405.73 670.00,405.00 C678.60,404.27 687.25,403.42 700.00,403.00 C712.75,402.58 737.17,402.58 746.50,402.50 C755.83,402.42 754.42,402.50 756.00,402.50" stroke="#00ff00" stroke-width="2.6" stroke-dasharray="15.20 10.00" stroke-dashoffset="15.25"/>
<path id="pDm" d="M440.00,552.90 C441.50,552.90 444.00,552.90 449.00,552.90 C454.00,552.90 464.92,552.90 470.00,552.90 C475.08,552.90 477.47,553.17 479.50,552.90 C481.53,552.63 481.03,552.55 482.20,551.30 C483.37,550.05 484.98,548.45 486.50,545.40 C488.02,542.35 489.67,537.57 491.30,533.00 C492.93,528.43 494.70,523.08 496.30,518.00 C497.90,512.92 499.45,507.33 500.90,502.50 C502.35,497.67 503.93,492.75 505.00,489.00 C506.07,485.25 505.75,485.52 507.30,480.00 C508.85,474.48 512.08,463.57 514.30,455.90 C516.52,448.23 518.77,440.23 520.60,434.00 C522.43,427.77 523.73,422.75 525.30,418.50 C526.87,414.25 528.47,411.65 530.00,408.50 C531.53,405.35 532.42,402.58 534.50,399.60 C536.58,396.62 539.85,393.07 542.50,390.60 C545.15,388.13 547.82,386.35 550.40,384.80 C552.98,383.25 555.47,381.93 558.00,381.30 C560.53,380.67 562.85,380.73 565.60,381.00 C568.35,381.27 571.53,381.73 574.50,382.90 C577.47,384.07 580.23,386.10 583.40,388.00 C586.57,389.90 590.32,392.67 593.50,394.30 C596.68,395.93 598.68,396.42 602.50,397.80 C606.32,399.18 610.88,401.18 616.40,402.60 C621.92,404.02 629.17,405.82 635.60,406.30 C642.03,406.78 647.60,405.97 655.00,405.50 C662.40,405.03 670.83,404.00 680.00,403.50 C689.17,403.00 698.92,402.70 710.00,402.50 C721.08,402.30 738.83,402.33 746.50,402.30 C754.17,402.27 754.42,402.30 756.00,402.30" stroke="#ff00ff" stroke-width="2.7" stroke-dasharray="15.20 3.50 3.00 3.50" stroke-dashoffset="14.90"/>
<path id="pDkd" d="M440.00,552.90 C441.50,552.90 444.00,552.90 449.00,552.90 C454.00,552.90 464.92,552.90 470.00,552.90 C475.08,552.90 477.50,553.17 479.50,552.90 C481.50,552.63 480.92,552.53 482.00,551.30 C483.08,550.07 484.57,548.52 486.00,545.50 C487.43,542.48 489.05,537.78 490.60,533.20 C492.15,528.62 493.77,523.07 495.30,518.00 C496.83,512.93 498.32,507.87 499.80,502.80 C501.28,497.73 502.75,492.65 504.20,487.60 C505.65,482.55 507.22,477.73 508.50,472.50 C509.78,467.27 510.35,462.45 511.90,456.20 C513.45,449.95 516.12,441.03 517.80,435.00 C519.48,428.97 520.72,424.17 522.00,420.00 C523.28,415.83 524.38,413.17 525.50,410.00 C526.62,406.83 527.28,404.78 528.70,401.00 C530.12,397.22 532.28,391.17 534.00,387.30 C535.72,383.43 536.90,380.87 539.00,377.80 C541.10,374.73 543.85,371.07 546.60,368.90 C549.35,366.73 552.93,365.42 555.50,364.80 C558.07,364.18 559.47,364.40 562.00,365.20 C564.53,366.00 567.98,367.60 570.70,369.60 C573.42,371.60 575.35,374.45 578.30,377.20 C581.25,379.95 585.23,383.12 588.40,386.10 C591.57,389.08 594.42,392.45 597.30,395.10 C600.18,397.75 602.52,399.77 605.70,402.00 C608.88,404.23 612.48,406.80 616.40,408.50 C620.32,410.20 624.75,411.58 629.20,412.20 C633.65,412.82 638.83,412.65 643.10,412.20 C647.37,411.75 650.72,410.57 654.80,409.50 C658.88,408.43 663.47,406.80 667.60,405.80 C671.73,404.80 675.55,404.25 679.60,403.50 C683.65,402.75 686.87,401.82 691.90,401.30 C696.93,400.78 703.82,400.55 709.80,400.40 C715.78,400.25 722.18,400.25 727.80,400.40 C733.42,400.55 738.80,401.12 743.50,401.30 C748.20,401.48 753.92,401.47 756.00,401.50" stroke="#000" stroke-width="2.6" stroke-dasharray="15.20 10.00" stroke-dashoffset="15.76"/>
<path id="pDk" d="M440.00,552.90 C441.50,552.90 444.00,552.90 449.00,552.90 C454.00,552.90 464.92,552.90 470.00,552.90 C475.08,552.90 477.33,553.08 479.50,552.90 C481.67,552.72 481.48,553.18 483.00,551.80 C484.52,550.42 486.72,547.77 488.60,544.60 C490.48,541.43 492.40,537.63 494.30,532.80 C496.20,527.97 498.18,521.03 500.00,515.60 C501.82,510.17 503.45,505.50 505.20,500.20 C506.95,494.90 508.72,489.23 510.50,483.80 C512.28,478.37 514.05,473.00 515.90,467.60 C517.75,462.20 520.00,455.75 521.60,451.40 C523.20,447.05 524.18,444.68 525.50,441.50 C526.82,438.32 528.08,435.38 529.50,432.30 C530.92,429.22 532.30,426.13 534.00,423.00 C535.70,419.87 537.63,416.50 539.70,413.50 C541.77,410.50 544.18,407.37 546.40,405.00 C548.62,402.63 550.63,400.88 553.00,399.30 C555.37,397.72 558.07,396.45 560.60,395.50 C563.13,394.55 565.72,394.02 568.20,393.60 C570.68,393.18 572.33,392.98 575.50,393.00 C578.67,393.02 583.78,393.23 587.20,393.70 C590.62,394.17 592.92,395.03 596.00,395.80 C599.08,396.57 601.42,397.35 605.70,398.30 C609.98,399.25 616.37,400.52 621.70,401.50 C627.03,402.48 632.35,403.57 637.70,404.20 C643.05,404.83 649.25,405.03 653.80,405.30 C658.35,405.57 659.40,405.82 665.00,405.80 C670.60,405.78 678.07,405.35 687.40,405.20 C696.73,405.05 710.90,405.03 721.00,404.90 C731.10,404.77 742.17,404.48 748.00,404.40 C753.83,404.32 754.67,404.40 756.00,404.40" stroke="#000" stroke-width="2.7"/>
</g>
<text x="495.60" y="600.90" class="tl" text-anchor="middle">160</text>
<text x="567.28" y="600.90" class="tl" text-anchor="middle">180</text>
<text x="638.97" y="600.90" class="tl" text-anchor="middle">200</text>
<text x="710.66" y="600.90" class="tl" text-anchor="middle">220</text>
<text x="443.20" y="560.58" class="tl" text-anchor="end">2</text>
<text x="443.20" y="517.76" class="tl" text-anchor="end">2.2</text>
<text x="443.20" y="474.94" class="tl" text-anchor="end">2.4</text>
<text x="443.20" y="432.12" class="tl" text-anchor="end">2.6</text>
<text x="443.20" y="389.30" class="tl" text-anchor="end">2.8</text>
<text x="598.30" y="626.70" class="lb" text-anchor="middle">Time(s)</text>
<text x="598.10" y="340.50" class="ti" text-anchor="middle">D</text>
<text class="lb" text-anchor="middle" transform="translate(15.20,136.00) rotate(-90)">Process Output</text>
<text class="lb" text-anchor="middle" transform="translate(15.20,462.00) rotate(-90)">Control Signal (%)</text>
</svg>
</body></html>
